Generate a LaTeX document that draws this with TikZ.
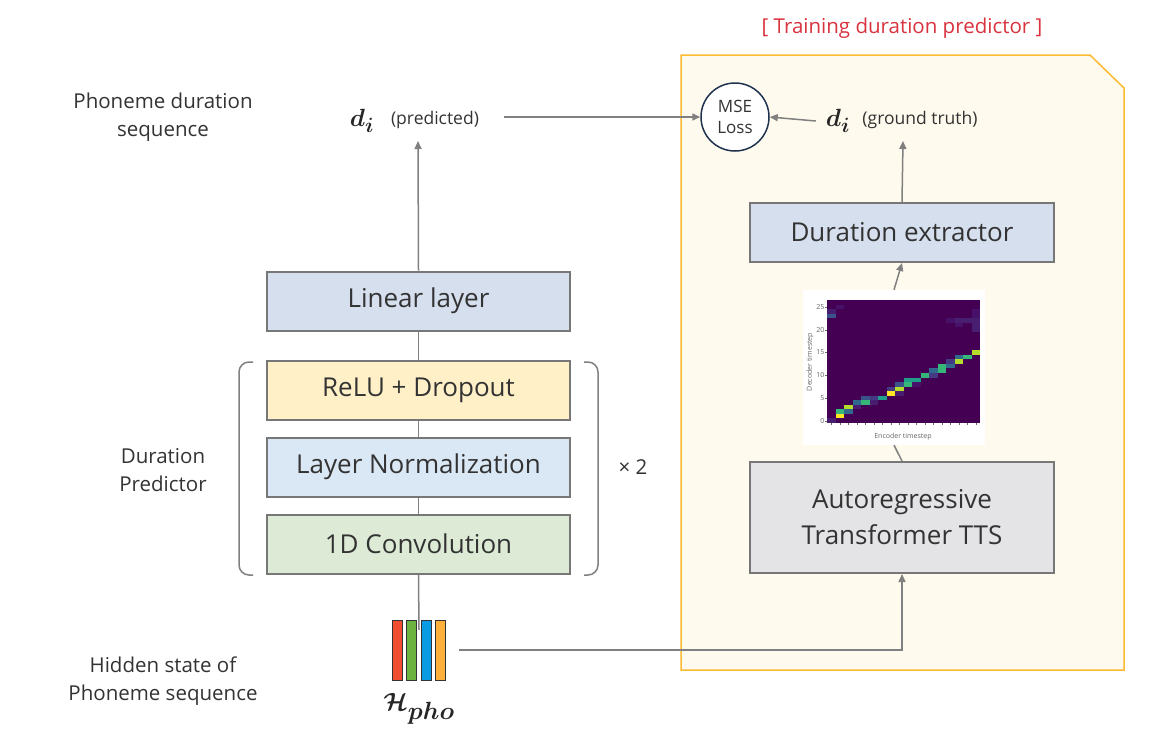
\documentclass[tikz,border=0pt]{standalone}
\usepackage{fontspec}
\setmainfont{Open Sans}
\usepackage{bm}
\usetikzlibrary{arrows.meta,calc}
\definecolor{txtc}{HTML}{333333}
\definecolor{boxc}{HTML}{777777}
\definecolor{linec}{HTML}{808080}
\definecolor{panelfill}{HTML}{FFFAEE}
\definecolor{paneldraw}{HTML}{FBBA30}
\definecolor{titlec}{HTML}{D9333F}
\definecolor{linfill}{HTML}{D5DFEE}
\definecolor{relufill}{HTML}{FFF0C8}
\definecolor{lnfill}{HTML}{DAE7F4}
\definecolor{convfill}{HTML}{DDEBD6}
\definecolor{arfill}{HTML}{E4E3E5}
\definecolor{msec}{HTML}{1F3350}
\definecolor{barred}{HTML}{F04E30}
\definecolor{bargreen}{HTML}{6DB33F}
\definecolor{barblue}{HTML}{0A9BE5}
\definecolor{barorange}{HTML}{FBB03B}
\definecolor{vbg}{HTML}{440154}
\definecolor{vY}{HTML}{FDE725}
\definecolor{vYG}{HTML}{B5DE2B}
\definecolor{vG}{HTML}{35B779}
\definecolor{vT}{HTML}{1F9E89}
\definecolor{vB}{HTML}{31688E}
\definecolor{vBB}{HTML}{3B528B}
\definecolor{vDB}{HTML}{443983}
\definecolor{vF}{HTML}{481F70}
\definecolor{vFF}{HTML}{47116A}
\begin{document}
\begin{tikzpicture}[x=1pt,y=-1pt,
  txt/.style={text=txtc,font=\fontsize{20.5}{28}\selectfont,align=center,inner sep=0pt},
  small/.style={text=txtc,font=\fontsize{17.5}{20}\selectfont,inner sep=0pt},
  blk/.style={draw=boxc,line width=2pt,minimum width=303pt,minimum height=59pt,text=txtc,font=\fontsize{26}{36}\selectfont,inner sep=0pt,align=center},
  conn/.style={draw=linec,line width=1.5pt},
  arr/.style={conn,-{Triangle[length=8pt,width=7pt]}},
  tick/.style={font=\fontsize{7}{8}\selectfont,text=black!60,inner sep=0.5pt},
  mathlab/.style={inner sep=0pt,text=black!85,font=\fontsize{30}{32}\selectfont},
]
\useasboundingbox (0,0) rectangle (1159,747);
\fill[white] (0,0) rectangle (1159,747);

% training panel
\draw[fill=panelfill,draw=paneldraw,line width=1.5pt] (681,55) -- (1090,55) -- (1124,88) -- (1124,670) -- (681,670) -- cycle;
\node[text=titlec,font=\fontsize{20.5}{24}\selectfont,inner sep=0pt] (title) at (902,28) {[ Training duration predictor ]};

% left labels
\node[txt] (lab1) at (163,117) {Phoneme duration\\sequence};
\node[txt] (lab2) at (163,470) {Duration\\Predictor};
\node[txt] (lab3) at (163,681) {Hidden state of\\Phoneme sequence};

% blocks
\node[blk,fill=linfill] (lin) at (418.5,301) {Linear layer};
\node[blk,fill=relufill] (relu) at (418.5,390.5) {ReLU + Dropout};
\node[blk,fill=lnfill] (ln) at (418.5,467) {Layer Normalization};
\node[blk,fill=convfill] (conv) at (418.5,544) {1D Convolution};
\node[blk,fill=linfill,minimum width=304pt] (dur) at (902,232.5) {Duration extractor};
\node[blk,fill=arfill,minimum width=304pt,minimum height=111pt] (ar) at (902,517.5) {Autoregressive\\Transformer TTS};

% brackets
\draw[linec,line width=1.5pt,rounded corners=10pt] (253,362) -- (239,362) -- (239,575) -- (253,575);
\draw[linec,line width=1.5pt,rounded corners=10pt] (584,362) -- (598,362) -- (598,575) -- (584,575);
\node[txt] (times) at (633,467) {× 2};

% outputs
\node[mathlab] (dp) at (362,121) {$\bm{d_i}$};
\node[small] (dplab) at (435,120) {(predicted)};
\node[mathlab] (dg) at (838,121) {$\bm{d_i}$};
\node[small] (dglab) at (920,120) {(ground truth)};
\node[circle,draw=msec,line width=1.5pt,fill=white,minimum size=68pt,inner sep=0pt,align=center,text=txtc,font=\fontsize{17}{21}\selectfont] (mse) at (735,117) {MSE\\Loss};
\coordinate (dptop) at (418,141);
\coordinate (dgtop) at (903,141);
\coordinate (predend) at (504,117);

% hidden state bars
\node[minimum width=54pt,minimum height=60pt,inner sep=0pt] (bars) at (419,650) {};
\draw[fill=barred,draw=black!80,line width=1pt] (392,620) rectangle (402,680);
\draw[fill=bargreen,draw=black!80,line width=1pt] (406.5,620) rectangle (416.5,680);
\draw[fill=barblue,draw=black!80,line width=1pt] (421,620) rectangle (431,680);
\draw[fill=barorange,draw=black!80,line width=1pt] (435.5,620) rectangle (445.5,680);
\node[mathlab,font=\fontsize{34}{36}\selectfont] (hpho) at (419,709) {$\bm{\mathcal{H}_{pho}}$};

% attention map
\node[fill=white,minimum width=182pt,minimum height=155pt,inner sep=0pt] (att) at (894,367.5) {};
\fill[vbg] (827,300) rectangle (980,423);
\foreach \c/\r/\col in {0/0/vF,0/23/vBB,0/24/vF,1/25/vFF,
  1/1/vY,1/2/vG,2/2/vB,2/3/vYG,3/3/vF,3/4/vB,4/4/vG,4/5/vBB,5/5/vDB,5/4/vF,6/5/vT,
  7/6/vY,7/7/vDB,8/6/vF,8/7/vYG,8/8/vBB,9/8/vG,9/9/vT,10/9/vT,10/8/vFF,
  11/10/vG,12/10/vDB,12/11/vB,13/11/vG,13/12/vG,14/12/vB,14/13/vDB,
  15/13/vYG,15/14/vB,16/14/vG,17/15/vYG,
  17/20/vF,17/21/vF,17/22/vF,17/23/vFF,16/22/vF,15/22/vF,14/22/vFF,15/21/vFF,17/24/vFF}
  \fill[\col] ({827+\c*8.5},{423-(\r+1)*4.55}) rectangle ({827+(\c+1)*8.5},{423-\r*4.55});
\foreach \v in {0,5,10,15,20,25} {
  \draw[black!60,line width=0.4pt] (825,{423-(\v+0.5)*4.55}) -- (827,{423-(\v+0.5)*4.55});
  \node[tick,anchor=east] at (825,{423-(\v+0.5)*4.55}) {\v};
}
\foreach \c in {0,...,17}
  \draw[black!60,line width=0.4pt] ({827+(\c+0.5)*8.5},423) -- ({827+(\c+0.5)*8.5},425);
\node[tick,rotate=90] (declab) at (810,362) {Decoder timestep};
\node[tick] (enclab) at (903,437) {Encoder timestep};

% connectors
\draw[conn] (conv.north) -- (ln.south);
\draw[conn] (ln.north) -- (relu.south);
\draw[conn] (relu.north) -- (lin.south);
\draw[arr] (lin.north) -- (dptop);
\draw[conn] (conv.south) -- ([yshift=-10pt]bars.north);
\draw[arr] ([xshift=13pt]bars.east) -| (ar.south);
\draw[conn] (ar.north) -- (att.south);
\draw[arr] (att.north) -- (dur.south);
\draw[arr] (dur.north) -- (dgtop);
\draw[arr] (predend) -- (mse.west);
\draw[arr] ([xshift=-10pt]dg.west) -- (mse.east);
\end{tikzpicture}
\end{document}
